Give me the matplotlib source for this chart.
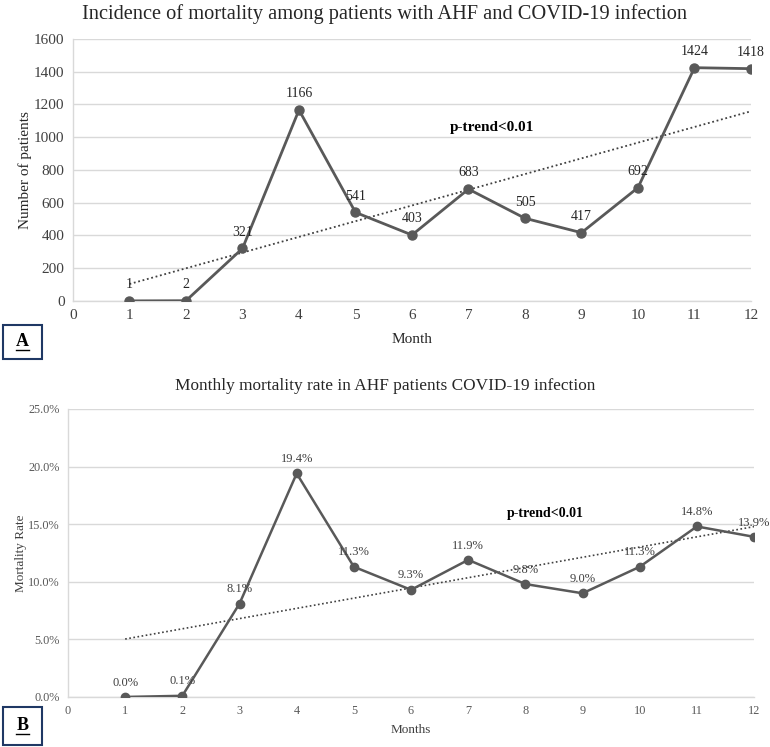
import numpy as np
import matplotlib.pyplot as plt
from matplotlib.patches import Rectangle
from matplotlib.lines import Line2D
from matplotlib.ticker import FuncFormatter

plt.rcParams['font.family'] = ['Liberation Serif', 'DejaVu Serif']

months = [1, 2, 3, 4, 5, 6, 7, 8, 9, 10, 11, 12]
deaths = [1, 2, 321, 1166, 541, 403, 683, 505, 417, 692, 1424, 1418]
rates = [0.0, 0.1, 8.1, 19.4, 11.3, 9.3, 11.9, 9.8, 9.0, 11.3, 14.8, 13.9]

line_col = "#595959"
grid_col = "#d9d9d9"

fig = plt.figure(figsize=(7.7, 7.47), dpi=100)


def style_axes(ax, tick_col, tick_size):
    for s in ["top", "right"]:
        ax.spines[s].set_visible(False)
    for s in ["left", "bottom"]:
        ax.spines[s].set_color(grid_col)
        ax.spines[s].set_linewidth(1)
    ax.grid(axis="y", color=grid_col, linewidth=1)
    ax.set_axisbelow(True)
    ax.tick_params(length=0, labelsize=tick_size, labelcolor=tick_col, pad=6)
    ax.set_xlim(0, 12)
    ax.set_xticks(range(0, 13))


# panel A
ax1 = fig.add_axes([0.0948, 0.597, 0.8805, 0.351])
style_axes(ax1, "#404040", 11)
ax1.set_ylim(0, 1600)
ax1.set_yticks(range(0, 1601, 200))
ax1.plot(months, deaths, color=line_col, lw=2, marker="o", ms=6.5, zorder=3)
k, b = np.polyfit(months, deaths, 1)
ax1.plot([1, 12], [k * 1 + b, k * 12 + b], color="#404040", lw=1.3, ls=(0, (1, 1.5)), zorder=2)
for m, v in zip(months, deaths):
    ax1.annotate(str(v), (m, v), xytext=(0, 7), textcoords="offset points",
                 ha="center", va="bottom", fontsize=10, color="#262626")
ax1.text(7.42, 1056, "p-trend<0.01", ha="center", va="center", fontsize=11,
         fontweight="bold", color="#000000")
fig.text(0.5, 1 - 14 / 747, "Incidence of mortality among patients with AHF and COVID-19 infection",
         ha="center", va="center", fontsize=14.7, color="#262626")
ax1.set_xlabel("Month", fontsize=11, color="#262626", labelpad=8)
ax1.set_ylabel("Number of patients", fontsize=11, color="#262626")
ax1.yaxis.set_label_coords(-0.060, 0.5)

# panel B
ax2 = fig.add_axes([0.0883, 0.067, 0.891, 0.3855])
style_axes(ax2, "#595959", 8.8)
ax2.set_ylim(0, 25)
ax2.set_yticks(np.arange(0, 25.1, 5))
ax2.yaxis.set_major_formatter(FuncFormatter(lambda v, p: f"{v:.1f}%"))
ax2.plot(months, rates, color=line_col, lw=1.8, marker="o", ms=6, zorder=3)
k2, b2 = np.polyfit(months, rates, 1)
ax2.plot([1, 12], [k2 * 1 + b2, k2 * 12 + b2], color="#404040", lw=1.2, ls=(0, (1, 1.5)), zorder=2)
for m, v in zip(months, rates):
    ax2.annotate(f"{v:.1f}%", (m, v), xytext=(0, 6), textcoords="offset points",
                 ha="center", va="bottom", fontsize=9, color="#404040")
ax2.text(8.34, 15.9, "p-trend<0.01", ha="center", va="center", fontsize=10,
         fontweight="bold", color="#000000")
fig.text(0.5, 1 - 386 / 747, "Monthly mortality rate in AHF patients COVID-19 infection",
         ha="center", va="center", fontsize=12.4, color="#262626")
ax2.set_xlabel("Months", fontsize=9.5, color="#404040", labelpad=5)
ax2.set_ylabel("Mortality Rate", fontsize=9.5, color="#404040")
ax2.yaxis.set_label_coords(-0.060, 0.5)


# panel letters
def letter_box(y0, y1, letter):
    W, H = 770, 747
    fig.patches.append(Rectangle((3 / W, 1 - y1 / H), 39 / W, (y1 - y0) / H,
                                 transform=fig.transFigure, fill=False,
                                 edgecolor="#1f3864", lw=1.5))
    yc = (y0 + y1) / 2
    fig.text(22.5 / W, 1 - (yc - 1) / H, letter, ha="center", va="center",
             fontsize=13, fontweight="bold", color="#000000")
    fig.lines.append(Line2D([16 / W, 29 / W], [1 - (yc + 8) / H, 1 - (yc + 8) / H],
                            transform=fig.transFigure, color="#000000", lw=1))


letter_box(325, 359, "A")
letter_box(707, 745, "B")

fig.savefig("out.png", dpi=100)
